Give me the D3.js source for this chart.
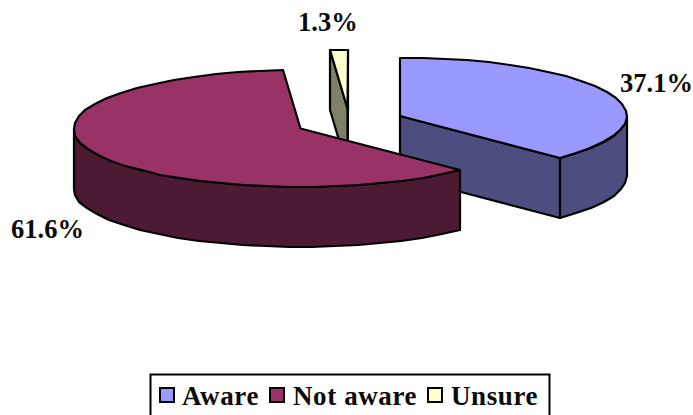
<!DOCTYPE html>
<html><head><meta charset="utf-8">
<script src="https://cdn.jsdelivr.net/npm/d3@7"></script>
<style>
html,body{margin:0;padding:0;background:#fff;overflow:hidden}
svg{display:block}
text{font-family:"Liberation Serif",serif;font-weight:bold;fill:#0a0a0a}
</style></head><body>
<svg id="c" width="693" height="415"></svg>
<script>
const categories = ["Aware", "Not aware", "Unsure"];
const values = [37.1, 61.6, 1.3];
const topColors = ["#9999FF", "#993366", "#FFFFCC"];
const sideColors = ["#4D4D80", "#4D1A33", "#808066"];

const svg = d3.select("#c");
const RX = 227, RY = 58.5, DEPTH = 60;
const centers = [[400,116],[300.5,128.5],[347.5,108.5]];
const labelPos = [[620,92],[11,238],[298,31]];
const legendSw = [160,270,428], legendTx = [182,293,451];

const arcs = d3.pie().sort(null).value(d=>d)(values);
const line = d3.line();
// oblique view: angles on the disc shift slightly when projected
const view = a => a - 0.03*Math.sin(2*a);

function rim(i, a0, a1, dy=0){
  const [cx,cy] = centers[i];
  const x = d3.scaleLinear().domain([-1,1]).range([cx-RX,cx+RX]);
  const y = d3.scaleLinear().domain([-1,1]).range([cy-RY+dy,cy+RY+dy]);
  const n = Math.max(1, Math.ceil((a1-a0)/0.11));
  return d3.range(n+1).map(k=>{
    const a = view(a0+(a1-a0)*k/n);
    return [Math.round(x(Math.sin(a))), Math.round(y(-Math.cos(a)))];
  });
}
const stroke = g => g.attr("stroke","#000").attr("stroke-width",2.2).attr("stroke-linejoin","round");
const closed = pts => line(pts)+"Z";

function drawSlice(i, walls){
  const g = svg.append("g");
  const d = arcs[i];
  const [cx,cy] = centers[i];
  walls.forEach(w=>{
    let pts;
    if(w.type==="cut"){
      const a = w.a==="start"?d.startAngle:d.endAngle;
      const p = rim(i,a,a)[0];
      pts = [[cx,cy],p,[p[0],p[1]+DEPTH],[cx,cy+DEPTH]];
    } else {
      pts = rim(i,w.a0,w.a1).concat(rim(i,w.a0,w.a1,DEPTH).reverse());
    }
    g.append("path").attr("d",closed(pts)).attr("fill",sideColors[i]).call(stroke);
  });
  g.append("path").attr("d",closed([[cx,cy]].concat(rim(i,d.startAngle,d.endAngle))))
    .attr("fill",topColors[i]).call(stroke);
}

const PI = Math.PI;
// painter's order: back to front
drawSlice(2,[{type:"cut",a:"end"},{type:"cut",a:"start"}]);
drawSlice(0,[{type:"cut",a:"end"},{a0:PI/2,a1:arcs[0].endAngle}]);
drawSlice(1,[{a0:arcs[1].startAngle,a1:3*PI/2}]);

// data labels
values.forEach((v,i)=>{
  svg.append("text").attr("x",labelPos[i][0]).attr("y",labelPos[i][1])
    .attr("font-size",26.5).text(d3.format(".1f")(v)+"%");
});

// legend
svg.append("rect").attr("x",150.5).attr("y",374.5).attr("width",399).attr("height",50)
  .attr("fill","#fff").attr("stroke","#000").attr("stroke-width",2);
categories.forEach((c,i)=>{
  svg.append("rect").attr("x",legendSw[i]).attr("y",388).attr("width",14).attr("height",14)
    .attr("fill",topColors[i]).attr("stroke","#000").attr("stroke-width",2);
  svg.append("text").attr("x",legendTx[i]).attr("y",405).attr("font-size",27)
    .attr("letter-spacing",0.6).text(c);
});
</script>
</body></html>
